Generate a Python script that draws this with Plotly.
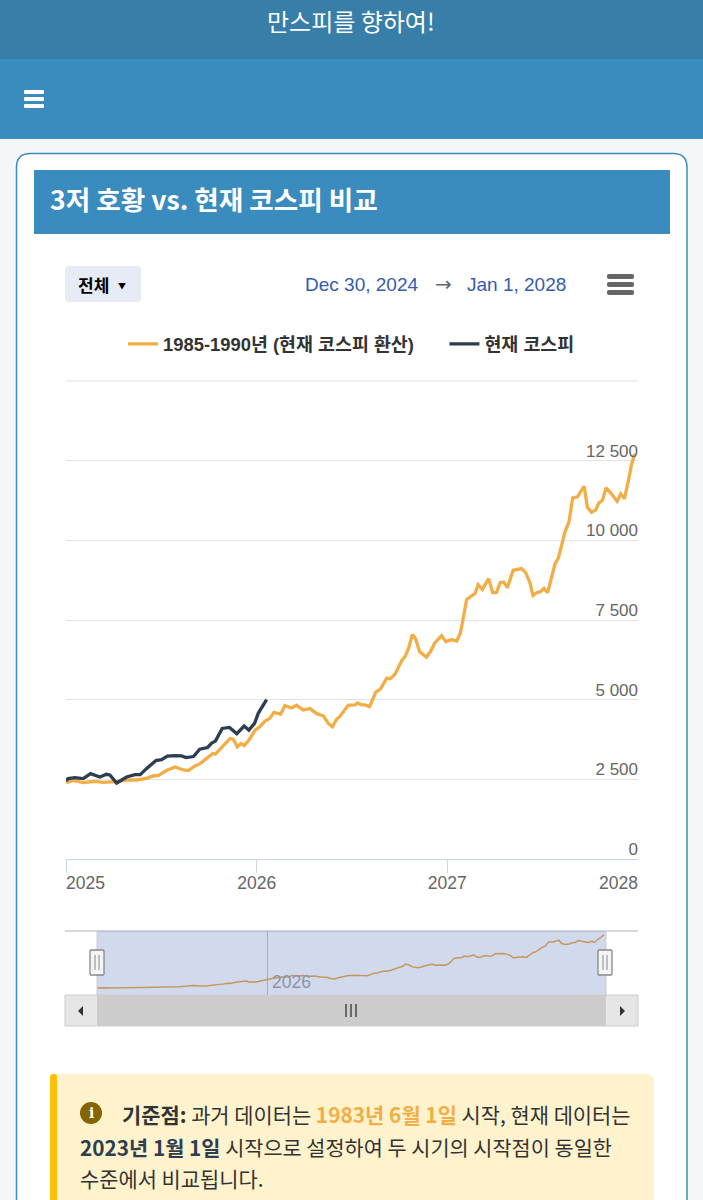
import plotly.graph_objects as go

W, H = 703, 1200
KR = "Noto Sans CJK KR"
LAT = "Liberation Sans"

past_dates = ["2025-01-01","2025-01-15","2025-02-03","2025-02-25","2025-03-13","2025-04-08","2025-04-27","2025-05-16","2025-06-04","2025-06-17","2025-06-27","2025-07-13","2025-07-29","2025-08-14","2025-08-23","2025-09-05","2025-09-14","2025-09-27","2025-10-09","2025-10-14","2025-10-29","2025-11-11","2025-11-17","2025-11-25","2025-12-02","2025-12-08","2025-12-18","2025-12-29",
"2026-01-07","2026-01-17","2026-01-26","2026-02-03","2026-02-16","2026-02-24","2026-03-09","2026-03-18","2026-03-31","2026-04-13","2026-04-26","2026-05-09","2026-05-18","2026-05-26","2026-06-03","2026-06-09","2026-06-25","2026-07-08","2026-07-13","2026-07-21","2026-07-27","2026-08-05","2026-08-12","2026-08-17","2026-08-26","2026-09-07","2026-09-14","2026-09-23","2026-10-05","2026-10-13","2026-10-19","2026-10-26","2026-11-01","2026-11-09","2026-11-22","2026-11-30","2026-12-08","2026-12-21","2026-12-29",
"2027-01-09","2027-01-19","2027-01-26","2027-01-31","2027-02-07","2027-02-13","2027-02-23","2027-03-01","2027-03-09","2027-03-21","2027-03-29","2027-04-05","2027-04-12","2027-04-19","2027-04-26","2027-05-07","2027-05-14","2027-05-23","2027-05-31","2027-06-08","2027-06-14","2027-06-21","2027-06-28","2027-07-05","2027-07-12","2027-07-20","2027-07-26","2027-08-02","2027-08-14","2027-08-22","2027-08-29","2027-09-07","2027-09-20","2027-09-26","2027-10-04","2027-10-12","2027-10-18","2027-10-25","2027-11-01","2027-11-11","2027-11-22","2027-11-29","2027-12-06","2027-12-13","2027-12-20","2027-12-26"]
past_values = [2395,2468,2395,2437,2405,2426,2479,2479,2532,2605,2626,2784,2889,2794,2773,2921,2984,3152,3310,3289,3551,3783,3762,3520,3625,3562,3751,4046,
4151,4330,4414,4603,4550,4813,4740,4824,4677,4719,4561,4487,4256,4151,4382,4466,4824,4834,4897,4834,4834,4782,5045,5234,5329,5676,5655,5802,6201,6380,6622,7042,6916,6506,6338,6517,6780,7011,6822,
6885,6843,7095,7516,8147,8220,8325,8609,8462,8798,8357,8357,8672,8693,8515,9061,9082,9114,8988,8672,8273,8357,8389,8494,8357,8883,9251,9461,10250,10586,11332,11364,11700,11038,10880,10954,11175,11259,11648,11459,11227,11459,11301,11826,12405,12720]

now_dates = ["2025-01-01","2025-01-05","2025-01-18","2025-02-03","2025-02-17","2025-03-07","2025-03-19","2025-03-26","2025-04-08","2025-04-27","2025-05-13","2025-05-23","2025-06-04","2025-06-22","2025-07-03","2025-07-14","2025-07-29","2025-08-10","2025-08-19","2025-09-02","2025-09-14","2025-09-29","2025-10-07","2025-10-14","2025-10-27","2025-11-10","2025-11-24","2025-12-08","2025-12-17","2025-12-28","2026-01-04","2026-01-20"]
now_values = [2447,2521,2553,2521,2679,2574,2658,2637,2384,2574,2647,2647,2836,3089,3120,3226,3247,3236,3183,3215,3446,3499,3636,3699,4098,4130,3930,4172,4046,4256,4571,5000]

past_name = "1985-1990년 (현재 코스피 환산)"
now_name = "현재 코스피"
y_ticks = [0, 2500, 5000, 7500, 10000, 12500, 15000]
y_labels = ["0", "2 500", "5 000", "7 500", "10 000", "12 500", ""]
x_ticks = ["2025-01-01", "2026-01-01", "2027-01-01", "2028-01-01"]
x_labels = ["", "2026", "2027", ""]

ORANGE, NAVY = "#f2ae45", "#2c3e50"
BLUE, DARK = "#3b8cbe", "#377ea8"
PAGE = "#f4f6f9"

def fx(p): return p / W
def fy(p): return 1 - p / H

shapes, notes = [], []

def rect(x0, y0, x1, y1, fill, line=None, lw=1, layer="below"):
    shapes.append(dict(type="rect", xref="paper", yref="paper", x0=fx(x0), x1=fx(x1), y0=fy(y0), y1=fy(y1),
                       fillcolor=fill, line=dict(color=line, width=lw) if line else dict(width=0), layer=layer))

def rrect(x0, y0, x1, y1, r, fill, line=None, lw=1, layer="below"):
    pts = [(x0 + r, y0), (x1 - r, y0), (x1, y0, x1, y0 + r), (x1, y1 - r), (x1, y1, x1 - r, y1), (x0 + r, y1), (x0, y1, x0, y1 - r), (x0, y0 + r), (x0, y0, x0 + r, y0)]
    d = ""
    for i, p in enumerate(pts):
        if len(p) == 2:
            d += ("M" if i == 0 else "L") + f"{fx(p[0]):.5f},{fy(p[1]):.5f} "
        else:
            d += f"Q{fx(p[0]):.5f},{fy(p[1]):.5f} {fx(p[2]):.5f},{fy(p[3]):.5f} "
    shapes.append(dict(type="path", xref="paper", yref="paper", path=d + "Z", fillcolor=fill,
                       line=dict(color=line, width=lw) if line else dict(width=0), layer=layer))

def seg(x0, y0, x1, y1, color, lw=1, layer="below"):
    shapes.append(dict(type="line", xref="paper", yref="paper", x0=fx(x0), x1=fx(x1), y0=fy(y0), y1=fy(y1),
                       line=dict(color=color, width=lw), layer=layer))

def tri(pts, color, layer="above"):
    d = "M" + " L".join(f"{fx(a):.5f},{fy(b):.5f}" for a, b in pts) + " Z"
    shapes.append(dict(type="path", xref="paper", yref="paper", path=d, fillcolor=color, line=dict(width=0), layer=layer))

def note(x, y, text, size, color, font=KR, anchor="left"):
    notes.append(dict(xref="paper", yref="paper", x=fx(x), y=fy(y), text=text, showarrow=False, xanchor=anchor, yanchor="middle",
                      font=dict(family=font, size=size, color=color), borderpad=0, borderwidth=0))

# page chrome
rect(0, 0, W, 59, DARK)
rect(0, 59, W, 139, BLUE)
rrect(16.5, 153.5, 687, 1230, 14, "#ffffff", "#3b8cbe", 1.5)
rect(34, 170, 670, 234, BLUE)
for y in (92, 99, 106):
    rrect(24, y - 2, 44, y + 2, 1, "#ffffff")
note(351, 20, "만스피를 향하여!", 24, "#ffffff", anchor="center")
note(50, 199, "<b>3저 호황 vs. 현재 코스피 비교</b>", 26.6, "#ffffff")

# chart toolbar
rrect(65, 266, 141, 302, 4, "#e6ebf5")
note(78, 284, "<b>전체</b>", 17, "#000000")
note(122, 285, "▼", 8, "#000000", anchor="center")
note(305, 284, "Dec 30, 2024", 19, "#335cad", LAT)
note(443, 284, "→", 20, "#666666", "DejaVu Sans", "center")
note(467, 284, "Jan 1, 2028", 19, "#335cad", LAT)
for y in (276.5, 284.5, 292.5):
    rrect(607, y - 2.5, 634, y + 2.5, 2, "#666666")

# top gridline of the plot area
seg(66, 381, 638, 381, "#e2e2e2", 1)

# x labels pinned to the plot edges
note(66, 883, "2025", 17.5, "#666666", LAT)
note(638, 883, "2028", 17.5, "#666666", LAT, "right")

# navigator
seg(65, 931, 638, 931, "#cccccc", 1.5)
rect(97, 931, 606, 995, "rgba(102,133,194,0.3)", layer="above")
seg(97, 931, 97, 995, "#cccccc", 1, "above")
seg(606, 931, 606, 995, "#cccccc", 1, "above")
note(272, 982, "2026", 17.5, "#8d94a9", LAT)
for cx in (97, 605):
    rrect(cx - 7, 950, cx + 7, 975, 1, "#f5f5f5", "#888888", 1.3, "above")
    seg(cx - 2, 955, cx - 2, 970, "#888888", 1, "above")
    seg(cx + 2, 955, cx + 2, 970, "#888888", 1, "above")
rect(65, 995, 638, 1026, "#e6e6e6", "#cccccc", 1, "above")
rect(97, 995, 606, 1026, "#cccccc", layer="above")
for x in (346, 351, 356):
    seg(x, 1004, x, 1017, "#333333", 1.3, "above")
tri([(83, 1006), (83, 1016), (78, 1011)], "#333333")
tri([(620, 1006), (620, 1016), (625, 1011)], "#333333")

# info box
rrect(50, 1074, 654, 1230, 8, "#fff3cd")
rrect(50, 1074, 57, 1230, 3, "#ffc107")
shapes.append(dict(type="circle", xref="paper", yref="paper", x0=fx(80), x1=fx(102), y0=fy(1124), y1=fy(1102),
                   fillcolor="#856404", line=dict(width=0), layer="above"))
note(91, 1113, "<b>i</b>", 14, "#ffffff", "DejaVu Serif", "center")
note(122, 1114, '<b>기준점:</b> 과거 데이터는 <span style="color:#f2ae45"><b>1983년 6월 1일</b></span> 시작, 현재 데이터는', 20.9, "#333333")
note(80, 1147, '<span style="color:#2c3e50"><b>2023년 1월 1일</b></span> 시작으로 설정하여 두 시기의 시작점이 동일한', 20.8, "#333333")
note(80, 1178, "수준에서 비교됩니다.", 20.9, "#333333")

fig = go.Figure()
fig.add_trace(go.Scatter(x=past_dates, y=past_values, mode="lines", name=f"<b>{past_name}</b>" + "\u00a0" * 5,
                         line=dict(color=ORANGE, width=3.3), hoverinfo="skip"))
fig.add_trace(go.Scatter(x=now_dates, y=now_values, mode="lines", name=f"<b>{now_name}</b>",
                         line=dict(color=NAVY, width=3.3), hoverinfo="skip"))
fig.add_trace(go.Scatter(x=past_dates, y=past_values, mode="lines", xaxis="x2", yaxis="y2", showlegend=False,
                         line=dict(color="#f0a030", width=1.5), hoverinfo="skip"))

fig.update_layout(
    width=W, height=H, margin=dict(l=0, r=0, t=0, b=0), autosize=False,
    paper_bgcolor=PAGE, plot_bgcolor="rgba(0,0,0,0)", shapes=shapes, annotations=notes,
    font=dict(family=f"{LAT}, {KR}"),
    legend=dict(orientation="h", x=0.5, xanchor="center", y=fy(344), yanchor="middle", itemwidth=30,
                font=dict(family=f"{LAT}, {KR}", size=18.4, color="#333333"), bgcolor="rgba(0,0,0,0)", traceorder="normal"),
    xaxis=dict(domain=[fx(66), fx(638)], type="date", range=["2025-01-01", "2028-01-01"], tickmode="array",
               tickvals=x_ticks, ticktext=x_labels, ticks="outside", ticklen=13, tickcolor="#ccd6eb", tickwidth=1,
               showline=True, linecolor="#ccd6eb", linewidth=1, showgrid=False, zeroline=False, ticklabelstandoff=-5,
               tickfont=dict(family=LAT, size=17.5, color="#666666"), anchor="y", fixedrange=True),
    yaxis=dict(domain=[fy(859), fy(381)], range=[0, 15000], tickmode="array", tickvals=y_ticks, ticktext=y_labels,
               side="right", ticklabelposition="inside", ticklabelshift=-10, ticklabelstandoff=-3, showgrid=True, gridcolor="#e2e2e2", gridwidth=1,
               zeroline=False, showline=False, ticks="",
               tickfont=dict(family=LAT, size=17, color="#666666"), anchor="x", fixedrange=True),
    xaxis2=dict(domain=[fx(66), fx(638)], type="date", range=["2024-10-26", "2028-03-08"], tickmode="array",
                tickvals=["2026-01-01"], ticktext=[""], showgrid=True, gridcolor="#b3bfd8", gridwidth=1, zeroline=False,
                showline=False, anchor="y2", fixedrange=True),
    yaxis2=dict(domain=[fy(995), fy(931)], range=[1040, 13480], visible=False, anchor="x2", fixedrange=True),
)

fig.write_html("out.html", config=dict(displayModeBar=False),
               post_script="document.body.style.margin='0';document.body.style.overflow='hidden';")
